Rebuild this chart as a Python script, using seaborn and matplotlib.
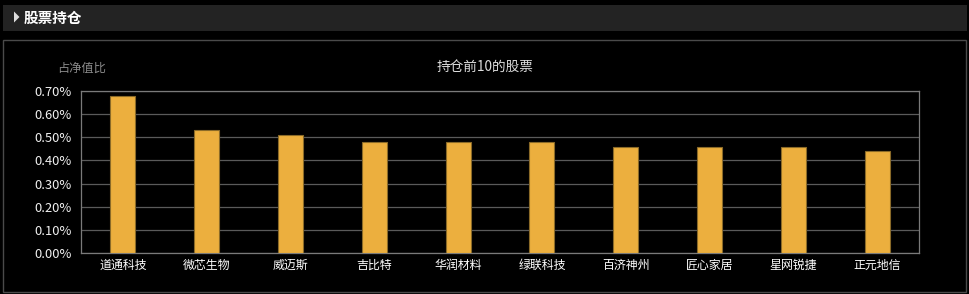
import matplotlib
matplotlib.use("Agg")
import matplotlib.pyplot as plt
import seaborn as sns
import pandas as pd
from matplotlib.patches import Rectangle, Polygon
from matplotlib.ticker import FuncFormatter, MultipleLocator

stocks = ["道通科技", "微芯生物", "威迈斯", "吉比特", "华润材料", "绿联科技", "百济神州", "匠心家居", "星网锐捷", "正元地信"]
ratios = [0.68, 0.53, 0.51, 0.48, 0.48, 0.48, 0.46, 0.46, 0.46, 0.44]
title = "持仓前10的股票"
ylabel = "占净值比"
header = "股票持仓"

sns.set_theme(style="dark")
plt.rcParams['font.family'] = ['Noto Sans CJK SC', 'DejaVu Sans']

df = pd.DataFrame({"stock": stocks, "ratio": ratios})

fig = plt.figure(figsize=(9.7, 2.94), dpi=100)
fig.patch.set_facecolor("black")

W, H = 970, 294
def fx(x): return x / W
def fy(y): return 1 - y / H

# header bar
fig.patches.append(Rectangle((fx(3), fy(31)), fx(964), 26 / H, transform=fig.transFigure,
                             facecolor="#232323", edgecolor="none", zorder=0))
fig.patches.append(Polygon([[fx(14), fy(11.5)], [fx(14), fy(22.5)], [fx(19.5), fy(17)]], closed=True,
                           transform=fig.transFigure, facecolor="#dddddd", edgecolor="none"))
fig.text(fx(24), fy(17.5), header, color="white", fontsize=10.5, fontweight="bold", va="center", ha="left")

# panel border
fig.patches.append(Rectangle((fx(3.5), fy(292)), fx(963), 252 / H, transform=fig.transFigure,
                             facecolor="none", edgecolor="#4a4a4a", linewidth=1, zorder=0))

ax = fig.add_axes([fx(81), fy(253), fx(838), 162 / H])
ax.set_facecolor("black")
sns.barplot(data=df, x="stock", y="ratio", ax=ax, color="#ECAF3E", width=0.3,
            edgecolor="#8a6a28", linewidth=0.8, saturation=1, zorder=3)

ax.set_ylim(0, 0.70)
ax.set_xlim(-0.5, len(stocks) - 0.5)
ax.yaxis.set_major_locator(MultipleLocator(0.1))
ax.yaxis.set_major_formatter(FuncFormatter(lambda v, p: f"{v:.2f}%"))
ax.grid(axis="y", color="#5a5a5a", linewidth=0.9, zorder=0)
ax.grid(axis="x", visible=False)
for s in ax.spines.values():
    s.set_visible(True)
    s.set_color("#7a7a7a")
    s.set_linewidth(0.9)
ax.tick_params(axis="x", colors="white", labelsize=8.6, length=0, pad=4)
ax.tick_params(axis="y", colors="#f0f0f0", labelsize=9.3, length=0, pad=7)
ax.set_xlabel("")
ax.set_ylabel("")

fig.text(fx(81.5), fy(68), ylabel, color="#8a8a8a", fontsize=8.8, ha="center", va="center")
fig.text(fx(485), fy(67), title, color="#dddddd", fontsize=9.8, ha="center", va="center")

fig.savefig("out.png", dpi=100, facecolor="black")
